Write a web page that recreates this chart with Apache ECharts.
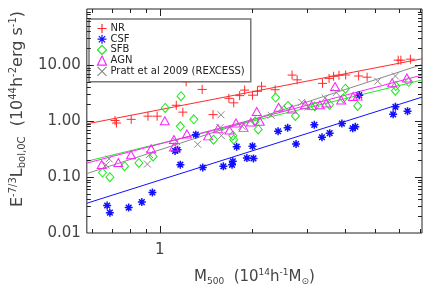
<!DOCTYPE html>
<html><head><meta charset="utf-8">
<script src="https://cdn.jsdelivr.net/npm/echarts@6/dist/echarts.min.js"></script>
<style>html,body{margin:0;padding:0;background:#fff}#c{width:436px;height:291px}</style>
</head><body><div id="c"></div>
<script>
// ---- data ----
const nrMass = [0.715,0.723,0.807,0.915,0.98,1.131,1.188,1.218,1.373,1.489,1.677,1.739,1.818,1.887,2.001,2.077,2.142,2.371,2.692,2.796,3.380,3.551,3.673,3.824,4.020,4.431,4.721,5.957,6.078,6.527];
const nrLum  = [1.02,0.92,1.07,1.22,1.22,1.91,1.44,5.0,3.66,1.30,2.54,2.11,2.84,3.56,2.89,3.39,4.17,3.62,6.61,5.43,4.70,5.77,6.29,6.56,6.64,6.36,6.06,12.2,12.2,12.7];
const csfMass = [0.674,0.688,0.792,0.874,0.946,1.121,1.142,1.166,1.309,1.379,1.609,1.717,1.727,1.778,1.919,2.016,2.001,2.424,2.604,2.773,3.179,3.367,3.567,3.908,4.239,4.322,4.450,5.737,5.834,6.39];
const csfLum  = [0.0310,0.0231,0.0284,0.0356,0.0528,0.292,0.307,0.166,0.571,0.148,0.155,0.165,0.191,0.348,0.218,0.215,0.355,0.656,0.759,0.389,0.855,0.512,0.607,0.90,0.739,0.789,2.89,1.317,1.79,1.50];
const sfbMass = [0.651,0.688,0.768,0.855,0.951,1.041,1.172,1.166,1.290,1.495,1.727,1.739,2.041,2.089,2.380,2.61,2.759,3.193,3.563,3.955,4.013,4.398,5.856,5.834,6.44];
const sfbLum  = [0.120,0.0993,0.156,0.178,0.233,1.714,2.78,0.805,1.07,0.464,0.547,0.464,0.98,0.706,2.62,1.853,1.23,1.826,1.953,2.54,3.77,1.855,4.21,3.48,5.02];
const agnMass = [0.647,0.733,0.806,0.937,1.038,1.111,1.111,1.225,1.436,1.546,1.685,1.769,1.872,1.976,2.114,2.066,2.433,2.689,2.966,3.117,3.313,3.475,3.712,3.889,4.249,4.398,5.694,6.36];
const agnLum  = [0.167,0.182,0.250,0.319,1.008,0.468,0.343,0.588,0.543,0.730,0.693,0.924,0.769,0.961,0.988,1.48,1.756,1.636,1.953,1.90,1.953,2.088,4.125,2.377,2.73,2.78,4.83,5.88];
const prattMass = [0.669,0.684,0.911,0.925,1.134,1.327,1.580,1.586,1.569,1.851,2.302,2.497,2.894,3.037,3.447,3.747,5.109,5.834];
const prattLum  = [0.164,0.211,0.170,0.252,0.428,0.384,1.29,0.547,0.759,0.805,1.266,1.735,2.154,1.784,2.572,3.22,5.12,6.36];
// best-fit line end points
const fitMass  = [0.579, 7.12];
const nrFit    = [0.889, 12.9];
const csfFit   = [0.034, 2.67];
const sfbFit   = [0.191, 5.4];
const agnFit   = [0.177, 6.6];
const prattFit = [0.115, 10.2];
// axis ticks
const xMajorTicks = [1];
const xMinorTicks = [0.6,0.7,0.8,0.9,2,3,4,5,6,7];
const yMajorTicks = [0.1,1,10];
const yMinorTicks = [0.02,0.03,0.04,0.05,0.06,0.07,0.08,0.09,0.2,0.3,0.4,0.5,0.6,0.7,0.8,0.9,2,3,4,5,6,7,8,9,20,30,40,50,60,70,80,90];
const yLabels = {'-2':'0.01','-1':'0.10','0':'1.00','1':'10.00'};
const seriesNames = ['NR','CSF','SFB','AGN','Pratt et al 2009 (REXCESS)'];

const zip = (a,b) => a.map((v,i)=>[v,b[i]]);
const FONT = 'DejaVu Sans';
const TXT = '#444';

const tickData = [];
xMinorTicks.forEach(v=>tickData.push([v,1,1]));
xMajorTicks.forEach(v=>tickData.push([v,2,1]));
yMinorTicks.forEach(v=>tickData.push([1,3,v]));
yMajorTicks.forEach(v=>tickData.push([1,4,v]));

const sym = {
  plus: 'path://M0,5L10,5M5,0L5,10',
  cross: 'path://M0,0L10,10M0,10L10,0',
  star: 'path://M5,0L5,10M0,5L10,5M1.5,1.5L8.5,8.5M1.5,8.5L8.5,1.5'
};
const colors = {nr:'#ff2a2a', csf:'#1010ff', sfb:'#22e622', agn:'#ff22ff', pratt:'#8a8a8a'};

function scat(name, data, symbol, size, color, bw){
  return {name, type:'scatter', data, symbol, symbolSize:size,
    itemStyle:{color:'none', borderColor:color, borderWidth:bw, opacity:1}, z:3};
}
function fit(name, ys, color){
  return {name, type:'line', data: zip(fitMass, ys), showSymbol:false, symbol:'none',
    lineStyle:{color, width:1}, itemStyle:{color}, z:2, silent:true};
}
const richY = {
  n:{fontSize:16, lineHeight:19, fontFamily:FONT, color:TXT},
  s:{fontSize:10, lineHeight:11, verticalAlign:'bottom', fontFamily:FONT, color:TXT},
  p:{fontSize:10, lineHeight:11, verticalAlign:'top', fontFamily:FONT, color:TXT}};
const richX = {
  n:{fontSize:15, lineHeight:18, fontFamily:FONT, color:TXT},
  s:{fontSize:9, lineHeight:10, verticalAlign:'bottom', fontFamily:FONT, color:TXT},
  p:{fontSize:9, lineHeight:10, verticalAlign:'top', fontFamily:FONT, color:TXT}};

const chart = echarts.init(document.getElementById('c'), null, {renderer:'canvas'});
chart.setOption({
  animation:false,
  grid:{left:82, right:14, top:9, bottom:47, show:true, borderColor:'#222', borderWidth:1, backgroundColor:'transparent'},
  xAxis:{type:'log', logBase:10, min:fitMass[0], max:fitMass[1],
    axisLine:{show:false}, axisTick:{show:false}, splitLine:{show:false}, minorTick:{show:false},
    axisLabel:{margin:10, fontFamily:FONT, fontSize:15, color:TXT,
      formatter:v=> Math.abs(v-1)<1e-6 ? '1' : ''},
    name:'{n|M}{s|500}{n|  (10}{p|14}{n|h}{p|-1}{n|M}{s|⊙}{n|)}',
    nameLocation:'middle', nameGap:35,
    nameTextStyle:{fontFamily:FONT, color:TXT, rich:richX}
  },
  yAxis:{type:'log', logBase:10, min:0.01, max:100, splitNumber:4,
    axisLine:{show:false}, axisTick:{show:false}, splitLine:{show:false}, minorTick:{show:false},
    axisLabel:{margin:6, fontFamily:FONT, fontSize:15, color:TXT,
      formatter:v=>{const e=Math.round(Math.log10(v)); return yLabels[String(e)]||'';}},
    name:'{n|E}{p|-7/3}{n|L}{s|bol,0C}{n|  (10}{p|44}{n|h}{p|-2}{n|erg s}{p|-1}{n|)}',
    nameLocation:'middle', nameRotate:90, nameGap:57,
    nameTextStyle:{fontFamily:FONT, color:TXT, padding:[0,0,0,24], rich:richY}
  },
  legend:{data:seriesNames, orient:'vertical', left:89, top:19, itemWidth:9, itemHeight:9, itemGap:-3.3,
    padding:[2.5,6,3.5,6], borderColor:'#777', borderWidth:1.5, backgroundColor:'#fff',
    itemStyle:{borderWidth:1.2},
    textStyle:{fontFamily:FONT, fontSize:10, color:'#222', padding:[0,0,0,-1]},
    selectedMode:false},
  series:[
    fit('NR fit', nrFit, colors.nr),
    fit('CSF fit', csfFit, colors.csf),
    fit('SFB fit', sfbFit, colors.sfb),
    fit('AGN fit', agnFit, colors.agn),
    fit('Pratt fit', prattFit, colors.pratt),
    scat(seriesNames[0], zip(nrMass,nrLum), sym.plus, 9, colors.nr, 1),
    scat(seriesNames[1], zip(csfMass,csfLum), sym.star, 8, colors.csf, 1.5),
    scat(seriesNames[2], zip(sfbMass,sfbLum), 'diamond', [8,9], colors.sfb, 1),
    scat(seriesNames[3], zip(agnMass,agnLum), 'triangle', [9,8], colors.agn, 1),
    scat(seriesNames[4], zip(prattMass,prattLum), sym.cross, 7, colors.pratt, 1),
    {type:'custom', name:'ticks', silent:true, z:5, data:tickData,
      dimensions:['xv','code','yv'], encode:{x:0, y:1},
      renderItem:(params, api)=>{
        const cs = params.coordSys;
        const code = api.value(1);
        const len = (code===2||code===4) ? 7 : 4;
        const st = {stroke:'#222', lineWidth:1};
        if (code<=2){
          const x = Math.round(api.coord([api.value(0),1])[0])+0.5;
          const b = cs.y+cs.height;
          return {type:'group', children:[
            {type:'line', shape:{x1:x,y1:b,x2:x,y2:b-len}, style:st},
            {type:'line', shape:{x1:x,y1:cs.y,x2:x,y2:cs.y+len}, style:st}]};
        }
        const y = Math.round(api.coord([1,api.value(2)])[1])+0.5;
        const r = cs.x+cs.width;
        return {type:'group', children:[
          {type:'line', shape:{x1:cs.x,y1:y,x2:cs.x+len,y2:y}, style:st},
          {type:'line', shape:{x1:r,y1:y,x2:r-len,y2:y}, style:st}]};
      }}
  ]
});
</script></body></html>
